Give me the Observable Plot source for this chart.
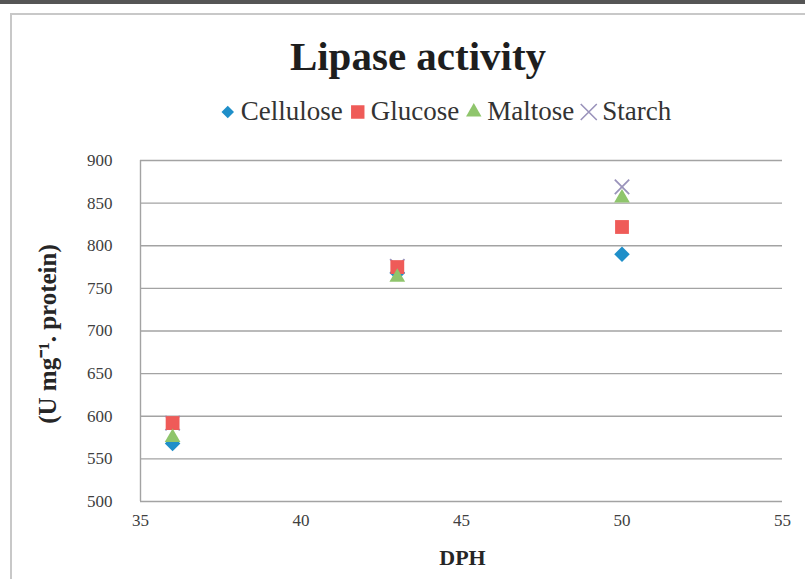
<!DOCTYPE html>
<html><head><meta charset="utf-8">
<script src="https://cdn.jsdelivr.net/npm/d3@7"></script>
<script src="https://cdn.jsdelivr.net/npm/@observablehq/plot@0.6"></script>
<style>
body{margin:0;background:#fff;}
#wrap{position:relative;width:805px;height:579px;overflow:hidden;font-family:"Liberation Serif","Times New Roman",serif;}
#bar{position:absolute;left:0;top:0;width:805px;height:4px;background:#555;}
#frame{position:absolute;left:10px;top:13px;width:900px;height:700px;border:2px solid #c8c8c8;}
#title{position:absolute;left:418px;top:36px;transform:translateX(-50%);font-weight:bold;font-size:41px;color:#1e1e1e;white-space:nowrap;line-height:1;}
#legend{position:absolute;left:445px;top:98px;transform:translateX(-50%);display:flex;align-items:center;white-space:nowrap;font-size:27px;color:#333;line-height:1;}
#legend .item{display:flex;align-items:center;margin:0 3px;}
#legend svg{margin-right:4px;}
#chart{position:absolute;left:0;top:0;}
</style></head>
<body>
<div id="wrap">
  <div id="bar"></div>
  <div id="frame"></div>
  <div id="chart"></div>
  <div id="title">Lipase activity</div>
  <div id="legend"></div>
</div>
<script>
const dph = [36, 43, 50];
const seriesNames = ["Cellulose", "Glucose", "Maltose", "Starch"];
const cellulose = [568, 768, 790];
const glucose = [592, 775, 822];
const maltose = [575, 763, 856];
const starch = [592, 776, 869];
const xTicks = [35, 40, 45, 50, 55];
const yTicks = [500, 550, 600, 650, 700, 750, 800, 850, 900];
const yLabel = "(U mg\u207B\u00B9. protein)";
const xLabel = "DPH";

const colors = {Cellulose: "#1f8fc9", Glucose: "#ef5b58", Maltose: "#8fc56c", Starch: "#9a93bb"};
const symbols = {Cellulose: "diamond2", Glucose: "square", Maltose: "triangle2", Starch: "times"};
const radii = {Cellulose: 7, Glucose: 7.8, Maltose: 7.5, Starch: 6.6};
const values = {Cellulose: cellulose, Glucose: glucose, Maltose: maltose, Starch: starch};
const drawOrder = ["Starch", "Cellulose", "Glucose", "Maltose"];

const rows = seriesNames.flatMap(s => dph.map((x, i) => ({series: s, x, y: values[s][i]})));
const font = "'Liberation Serif', 'Times New Roman', serif";

const dotMarks = drawOrder.map(s => {
  const data = rows.filter(d => d.series === s);
  if (symbols[s] === "times") {
    return Plot.dot(data, {x: "x", y: "y", symbol: "times", r: radii[s], stroke: colors[s], strokeWidth: 1.8, fill: "none"});
  }
  return Plot.dot(data, {x: "x", y: "y", symbol: symbols[s], r: radii[s], fill: colors[s], stroke: "none"});
});

const chart = Plot.plot({
  width: 805, height: 579,
  marginLeft: 140, marginRight: 23, marginTop: 160, marginBottom: 78,
  style: {fontFamily: font, background: "transparent", color: "#404040"},
  x: {domain: [35, 55], ticks: xTicks},
  y: {domain: [500, 900], ticks: yTicks},
  marks: [
    Plot.gridY(yTicks, {stroke: "#a3a3a3", strokeOpacity: 1, strokeWidth: 1.4}),
    Plot.ruleX([35], {stroke: "#a3a3a3", strokeWidth: 1.4}),
    Plot.axisY(yTicks, {tickSize: 0, tickPadding: 28, fontSize: 17, fontFamily: font, label: null, fill: "#404040"}),
    Plot.axisX(xTicks, {tickSize: 0, tickPadding: 12, fontSize: 17, fontFamily: font, label: null, fill: "#404040"}),
    Plot.text([yLabel], {frameAnchor: "left", textAnchor: "middle", rotate: -90, dx: -93, dy: 3, fontSize: 25, fontFamily: font, fontWeight: "bold", fill: "#262626"}),
    Plot.text([xLabel], {frameAnchor: "bottom", dy: 63, dx: 1, fontSize: 22, fontFamily: font, fontWeight: "bold", fill: "#262626"}),
    ...dotMarks
  ]
});
document.getElementById("chart").appendChild(chart);

const symMap = {diamond2: d3.symbolDiamond2, square: d3.symbolSquare, triangle2: d3.symbolTriangle2, times: d3.symbolTimes};
const legend = document.getElementById("legend");
seriesNames.forEach(s => {
  const item = document.createElement("div");
  item.className = "item";
  const ns = "http://www.w3.org/2000/svg";
  const svg = document.createElementNS(ns, "svg");
  svg.setAttribute("width", 18); svg.setAttribute("height", 18);
  svg.setAttribute("viewBox", "-9 -9 18 18");
  const p = document.createElementNS(ns, "path");
  const size = s === "Cellulose" ? 100 : s === "Glucose" ? 180 : 170;
  p.setAttribute("d", d3.symbol(symMap[symbols[s]], size)());
  if (symbols[s] === "times") { p.setAttribute("fill", "none"); p.setAttribute("stroke", colors[s]); p.setAttribute("stroke-width", 1.6); }
  else p.setAttribute("fill", colors[s]);
  svg.appendChild(p);
  item.appendChild(svg);
  const t = document.createElement("span");
  t.textContent = s;
  item.appendChild(t);
  legend.appendChild(item);
});
</script>
</body></html>
